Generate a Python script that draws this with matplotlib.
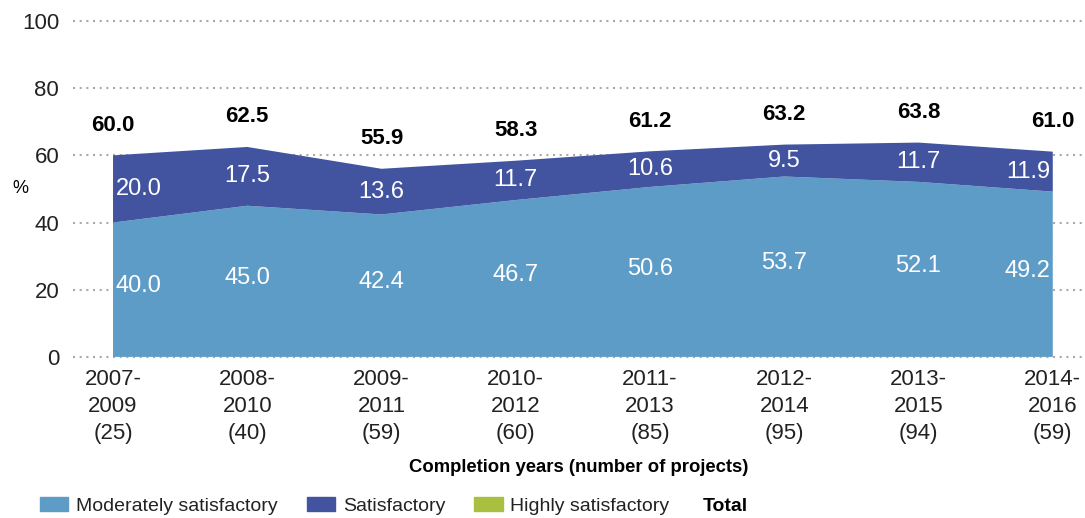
import matplotlib
matplotlib.use('Agg')
import matplotlib.pyplot as plt
from matplotlib.patches import Patch

plt.rcParams['font.family'] = ['Liberation Sans', 'DejaVu Sans']

# Ratings by completion-year window
periods = ['2007-\n2009\n(25)', '2008-\n2010\n(40)', '2009-\n2011\n(59)', '2010-\n2012\n(60)',
           '2011-\n2013\n(85)', '2012-\n2014\n(95)', '2013-\n2015\n(94)', '2014-\n2016\n(59)']
moderately = [40.0, 45.0, 42.4, 46.7, 50.6, 53.7, 52.1, 49.2]
satisfactory = [20.0, 17.5, 13.6, 11.7, 10.6, 9.5, 11.7, 11.9]
highly = [0.0, 0.0, 0.0, 0.0, 0.0, 0.0, 0.0, 0.0]
totals = [60.0, 62.5, 55.9, 58.3, 61.2, 63.2, 63.8, 61.0]

c_mod = '#5E9CC8'
c_sat = '#4254A0'
c_high = '#A8BF3F'

fig = plt.figure(figsize=(10.85, 5.18), dpi=100)
ax = fig.add_axes([0.0673, 0.311, 0.9327, 0.6485])

x = list(range(len(periods)))
ax.stackplot(x, moderately, satisfactory, highly, colors=[c_mod, c_sat, c_high], zorder=2)

ax.set_xlim(-0.298, 7.24)
ax.set_ylim(0, 100)
ax.set_yticks([0, 20, 40, 60, 80, 100])
for yv in [0, 20, 40, 60, 80, 100]:
    ax.axhline(yv, color='#AAAAAA', lw=1.5, ls=(0, (1, 2.2)), zorder=1, clip_on=False)

for s in ax.spines.values():
    s.set_visible(False)
ax.tick_params(axis='y', length=0, pad=10, labelsize=16, labelcolor='#222222')
ax.tick_params(axis='x', length=0, pad=9, labelsize=16, labelcolor='#222222')
ax.set_xticks(x)
ax.set_xticklabels(periods, linespacing=1.35, ha='center')

ax.set_ylabel('%', rotation=0, fontsize=13, va='center')
ax.yaxis.set_label_coords(-0.052, 0.5)
ax.set_xlabel('Completion years (number of projects)', fontsize=13.3, fontweight='bold', labelpad=11)

# Value labels inside each band and totals above
last = len(x) - 1
for i in x:
    if i == 0:
        ha, xo = 'left', 0.02
    elif i == last:
        ha, xo = 'right', -0.02
    else:
        ha, xo = 'center', 0
    ax.text(i + xo, moderately[i] / 2 + 1, f'{moderately[i]:.1f}', color='white',
            fontsize=17, ha=ha, va='center', zorder=3)
    ax.text(i + xo, moderately[i] + satisfactory[i] / 2, f'{satisfactory[i]:.1f}', color='white',
            fontsize=17, ha=ha, va='center', zorder=3)
    ax.text(i, totals[i] + 9, f'{totals[i]:.1f}', color='black', fontsize=16,
            fontweight='bold', ha='center', va='center', zorder=3)

handles = [Patch(color=c_mod), Patch(color=c_sat), Patch(color=c_high)]
labels = ['Moderately satisfactory', 'Satisfactory', 'Highly satisfactory']
fig.legend(handles, labels, loc='center left', bbox_to_anchor=(0.037, 0.023), ncol=3,
           frameon=False, fontsize=14, handlelength=1.45, handleheight=0.75,
           handletextpad=0.4, columnspacing=1.5, labelcolor='#222222',
           borderpad=0, borderaxespad=0)
fig.text(703 / 1085, 0.023, 'Total', fontsize=14, fontweight='bold', ha='left', va='center')

fig.savefig('out.png', dpi=100)
